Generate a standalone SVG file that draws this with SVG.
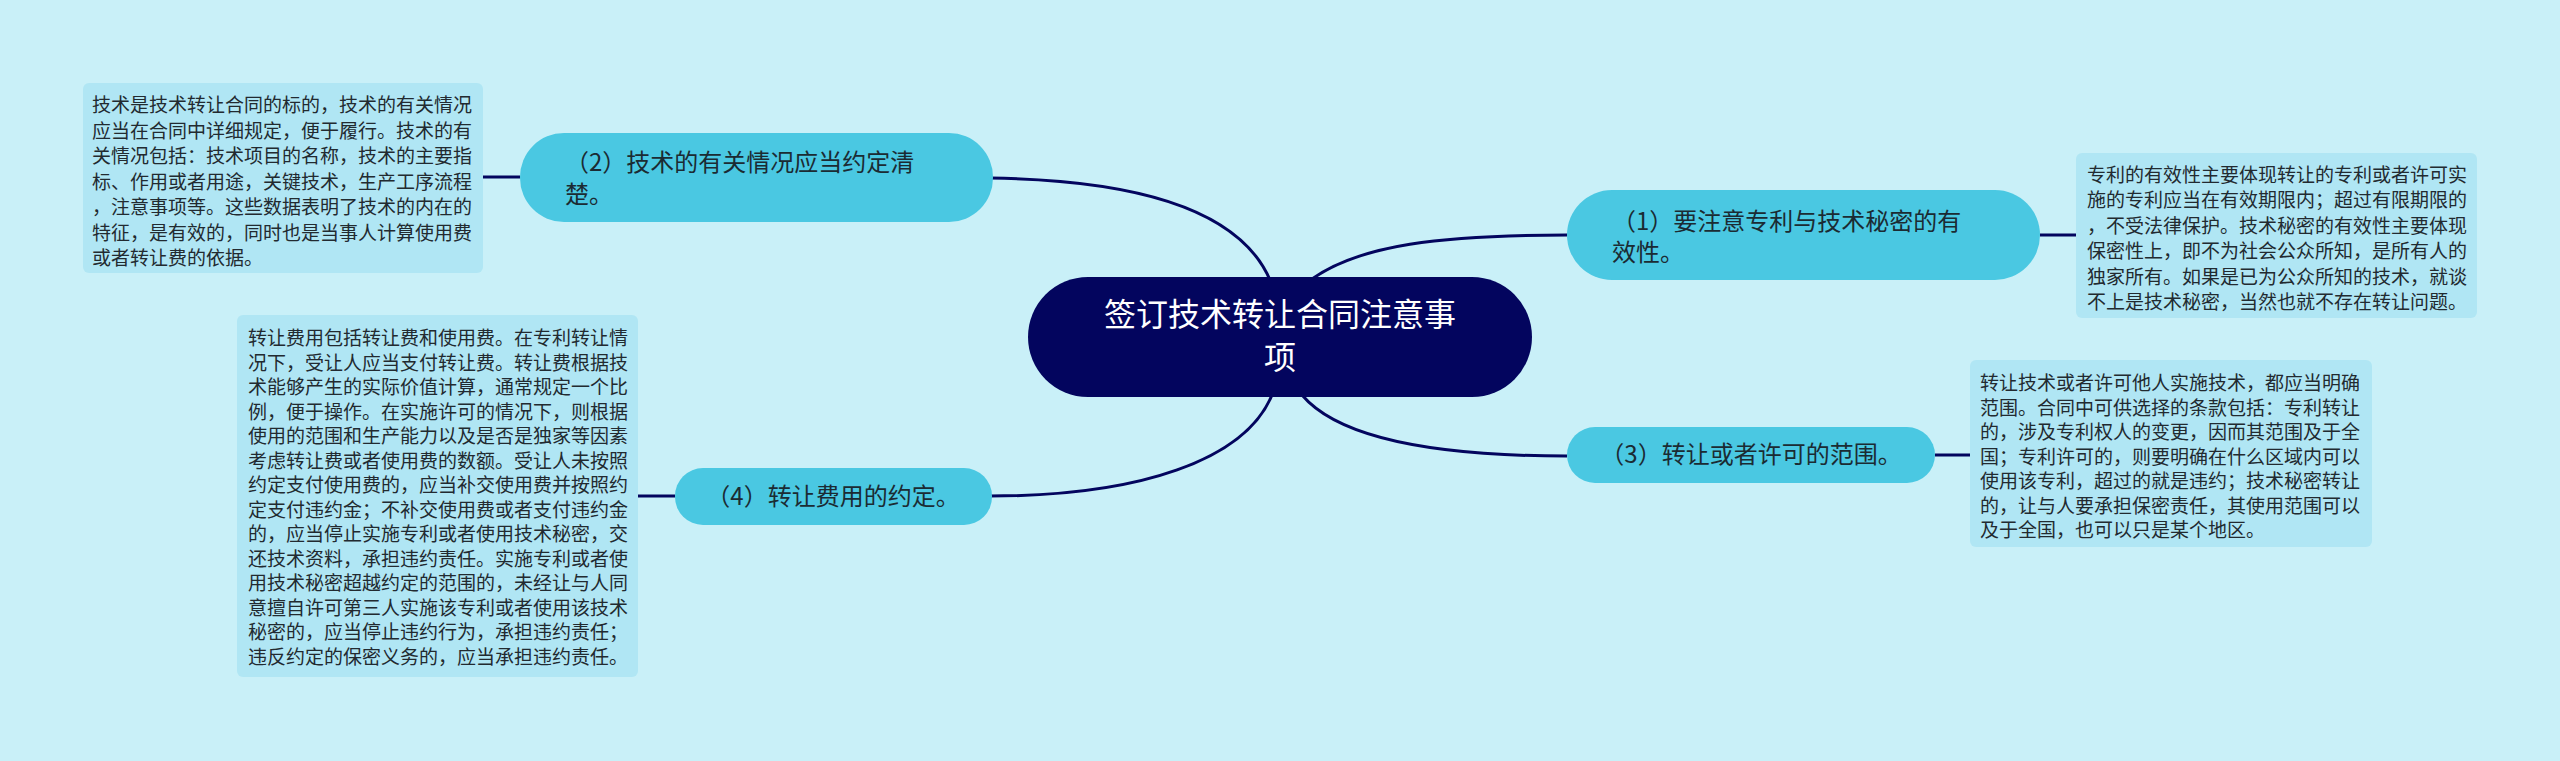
<svg xmlns="http://www.w3.org/2000/svg" width="2560" height="761" viewBox="0 0 2560 761">
<style>
.bg{fill:#c9f0f8}
.root{fill:#03055e}
.branch{fill:#4ac8e2}
.detail{fill:#b0e6f4}
.conn{fill:none;stroke:#03055e;stroke-width:3}
.rt{font-family:"Noto Sans CJK SC","Noto Sans",sans-serif;font-size:32px;fill:#ffffff;text-anchor:middle}
.bt{font-family:"Noto Sans CJK SC","Noto Sans",sans-serif;font-size:24px;fill:#1b2b33}
.dt{font-family:"Noto Sans CJK SC","Noto Sans",sans-serif;font-size:19px;fill:#222a30}
</style>
<rect class="bg" x="0" y="0" width="2560" height="761"/>
<g id="connectors">
<path class="conn" d="M990,178 C1140,180 1240,210 1270,280"/>
<path class="conn" d="M1312,279 C1360,245 1440,235 1567,235"/>
<path class="conn" d="M1272,395 C1245,460 1140,496 990,496"/>
<path class="conn" d="M1302,395 C1340,440 1440,456 1567,456"/>
<path class="conn" d="M483,177 L520,177"/>
<path class="conn" d="M2040,235 L2076,235"/>
<path class="conn" d="M1935,455 L1970,455"/>
<path class="conn" d="M638,496 L675,496"/>
</g>
<g id="root">
<rect class="root" x="1028" y="277" width="504" height="120" rx="60"/>
<text class="rt" x="1280" y="326">签订技术转让合同注意事</text>
<text class="rt" x="1280" y="369">项</text>
</g>
<g id="branch2">
<rect class="branch" x="520" y="133" width="473" height="89" rx="44"/>
<text class="bt" x="565" y="171">（2）技术的有关情况应当约定清</text>
<text class="bt" x="565" y="203">楚。</text>
</g>
<g id="branch1">
<rect class="branch" x="1567" y="190" width="473" height="90" rx="45"/>
<text class="bt" x="1612" y="230">（1）要注意专利与技术秘密的有</text>
<text class="bt" x="1612" y="261">效性。</text>
</g>
<g id="branch3">
<rect class="branch" x="1567" y="427" width="368" height="56" rx="28"/>
<text class="bt" x="1751" y="463" text-anchor="middle">（3）转让或者许可的范围。</text>
</g>
<g id="branch4">
<rect class="branch" x="675" y="468" width="317" height="57" rx="28"/>
<text class="bt" x="833" y="505" text-anchor="middle">（4）转让费用的约定。</text>
</g>
<g id="detail2">
<rect class="detail" x="83" y="83" width="400" height="190" rx="6"/>
<text class="dt" x="92" y="112">技术是技术转让合同的标的，技术的有关情况</text>
<text class="dt" x="92" y="137.5">应当在合同中详细规定，便于履行。技术的有</text>
<text class="dt" x="92" y="163">关情况包括：技术项目的名称，技术的主要指</text>
<text class="dt" x="92" y="188.5">标、作用或者用途，关键技术，生产工序流程</text>
<text class="dt" x="92" y="214">，注意事项等。这些数据表明了技术的内在的</text>
<text class="dt" x="92" y="239.5">特征，是有效的，同时也是当事人计算使用费</text>
<text class="dt" x="92" y="265">或者转让费的依据。</text>
</g>
<g id="detail1">
<rect class="detail" x="2076" y="153" width="401" height="165" rx="6"/>
<text class="dt" x="2087" y="182">专利的有效性主要体现转让的专利或者许可实</text>
<text class="dt" x="2087" y="207.4">施的专利应当在有效期限内；超过有限期限的</text>
<text class="dt" x="2087" y="232.8">，不受法律保护。技术秘密的有效性主要体现</text>
<text class="dt" x="2087" y="258.2">保密性上，即不为社会公众所知，是所有人的</text>
<text class="dt" x="2087" y="283.6">独家所有。如果是已为公众所知的技术，就谈</text>
<text class="dt" x="2087" y="309">不上是技术秘密，当然也就不存在转让问题。</text>
</g>
<g id="detail3">
<rect class="detail" x="1970" y="360" width="402" height="187" rx="6"/>
<text class="dt" x="1980" y="390">转让技术或者许可他人实施技术，都应当明确</text>
<text class="dt" x="1980" y="414.5">范围。合同中可供选择的条款包括：专利转让</text>
<text class="dt" x="1980" y="439">的，涉及专利权人的变更，因而其范围及于全</text>
<text class="dt" x="1980" y="463.5">国；专利许可的，则要明确在什么区域内可以</text>
<text class="dt" x="1980" y="488">使用该专利，超过的就是违约；技术秘密转让</text>
<text class="dt" x="1980" y="512.5">的，让与人要承担保密责任，其使用范围可以</text>
<text class="dt" x="1980" y="537">及于全国，也可以只是某个地区。</text>
</g>
<g id="detail4">
<rect class="detail" x="237" y="315" width="401" height="362" rx="6"/>
<text class="dt" x="248" y="345">转让费用包括转让费和使用费。在专利转让情</text>
<text class="dt" x="248" y="369.5">况下，受让人应当支付转让费。转让费根据技</text>
<text class="dt" x="248" y="394">术能够产生的实际价值计算，通常规定一个比</text>
<text class="dt" x="248" y="418.5">例，便于操作。在实施许可的情况下，则根据</text>
<text class="dt" x="248" y="443">使用的范围和生产能力以及是否是独家等因素</text>
<text class="dt" x="248" y="467.5">考虑转让费或者使用费的数额。受让人未按照</text>
<text class="dt" x="248" y="492">约定支付使用费的，应当补交使用费并按照约</text>
<text class="dt" x="248" y="516.5">定支付违约金；不补交使用费或者支付违约金</text>
<text class="dt" x="248" y="541">的，应当停止实施专利或者使用技术秘密，交</text>
<text class="dt" x="248" y="565.5">还技术资料，承担违约责任。实施专利或者使</text>
<text class="dt" x="248" y="590">用技术秘密超越约定的范围的，未经让与人同</text>
<text class="dt" x="248" y="614.5">意擅自许可第三人实施该专利或者使用该技术</text>
<text class="dt" x="248" y="639">秘密的，应当停止违约行为，承担违约责任；</text>
<text class="dt" x="248" y="663.5">违反约定的保密义务的，应当承担违约责任。</text>
</g>
</svg>
